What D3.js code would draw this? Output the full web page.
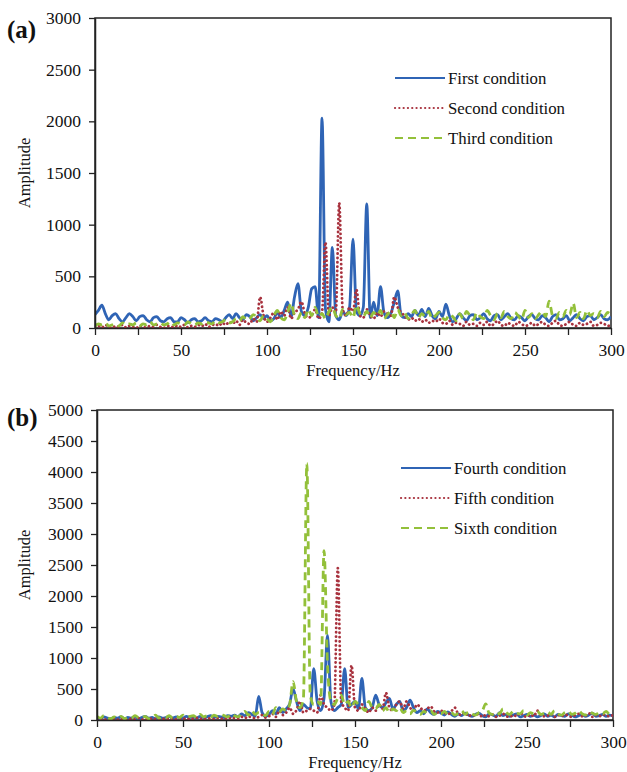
<!DOCTYPE html>
<html lang="en">
<head>
  <meta charset="UTF-8">
  <title>Amplitude spectra</title>
  <script src="https://cdn.jsdelivr.net/npm/d3@7"></script>
  <style>
    body { margin: 0; background: #fff; }
    text { font-family: "Times New Roman", "Liberation Serif", serif; fill: #111; }
  </style>
</head>
<body>
  <div id="chart"></div>
  <script>
    // frequency grid, every 2 Hz from 0 to 300
    const freq = d3.range(0, 301, 2);

    // panel (a) amplitudes, one row = 10 Hz (5 points)
    const firstCond = [
      130, 170, 220, 140, 80,   120, 140, 90, 60, 100,
      140, 110, 70, 110, 120,   80, 60, 100, 110, 70,
      60, 90, 100, 60, 60,      100, 80, 50, 80, 90,
      60, 70, 100, 70, 60,      90, 80, 60, 100, 130,
      90, 140, 100, 80, 130,    110, 70, 100, 130, 90,
      120, 70, 90, 150, 100,    170, 250, 110, 300, 430,
      160, 120, 200, 380, 400,  100, 2030, 180, 60, 780,
      120, 80, 160, 120, 200,   860, 160, 120, 200, 1200,
      100, 250, 120, 400, 150,  100, 140, 250, 360, 120,
      100, 140, 110, 170, 120,  180, 110, 190, 120, 90,
      160, 110, 230, 120, 60,   90, 140, 100, 70, 120,
      130, 80, 100, 140, 90,    70, 120, 130, 80, 110,
      140, 90, 80, 120, 100,    70, 110, 130, 90, 80,
      120, 100, 60, 110, 130,   80, 90, 120, 70, 100,
      130, 90, 70, 110, 120,    80, 100, 130, 90, 80,
      110
    ];
    const secondCond = [
      10, 20, 5, 30, 10,        0, 20, 10, 30, 5,
      20, 10, 0, 25, 10,        5, 20, 10, 30, 10,
      0, 20, 15, 5, 25,         10, 30, 5, 20, 10,
      30, 15, 40, 10, 25,       40, 20, 50, 30, 60,
      40, 70, 30, 80, 50,       40, 90, 60, 300, 120,
      60, 100, 150, 80, 160,    120, 200, 90, 150, 180,
      255, 140, 100, 120, 180,  90, 150, 830, 120, 200,
      150, 1210, 180, 120, 200, 160, 370, 120, 100, 180,
      120, 90, 150, 110, 160,   140, 120, 300, 200, 150,
      120, 80, 100, 70, 90,     60, 80, 50, 70, 60,
      90, 50, 40, 70, 30,       50, 40, 20, 60, 30,
      40, 20, 50, 30, 60,       20, 40, 70, 30, 20,
      50, 30, 20, 60, 40,       20, 30, 50, 20, 40,
      60, 30, 20, 50, 70,       30, 20, 40, 60, 30,
      20, 50, 30, 40, 60,       20, 30, 50, 40, 20,
      30
    ];
    const thirdCond = [
      20, 40, 30, 50, 20,       30, 40, 20, 50, 30,
      40, 30, 50, 20, 40,       30, 60, 30, 40, 50,
      30, 40, 60, 30, 50,       40, 30, 60, 40, 30,
      50, 40, 60, 50, 40,       70, 50, 60, 80, 50,
      60, 90, 70, 110, 80,      90, 130, 100, 70, 120,
      90, 60, 120, 170, 100,    80, 150, 240, 120, 90,
      150, 100, 180, 120, 200,  110, 140, 90, 160, 200,
      120, 90, 180, 130, 150,   100, 220, 140, 110, 160,
      100, 150, 120, 170, 90,   130, 160, 100, 180, 120,
      150, 90, 130, 170, 100,   140, 110, 160, 90, 120,
      150, 100, 80, 130, 110,   70, 140, 90, 160, 120,
      80, 150, 110, 90, 170,    120, 80, 140, 100, 160,
      110, 90, 150, 120, 80,    170, 100, 140, 90, 130,
      160, 110, 260, 120, 90,   150, 110, 170, 130, 240,
      100, 150, 90, 170, 120,   140, 100, 160, 110, 150,
      130
    ];

    // panel (b) amplitudes
    const fourthCond = [
      40, 20, 50, 30, 20,       40, 30, 50, 20, 40,
      30, 50, 20, 40, 60,       30, 40, 20, 50, 30,
      40, 60, 30, 50, 40,       30, 60, 40, 50, 30,
      60, 40, 50, 70, 40,       60, 50, 40, 70, 60,
      80, 50, 100, 70, 120,     90, 60, 380, 120, 60,
      90, 150, 100, 200, 120,   180, 260, 500, 300, 150,
      250, 200, 180, 830, 300,  150, 350, 1370, 300, 150,
      200, 250, 830, 200, 250,  300, 180, 670, 200, 150,
      200, 400, 250, 200, 280,  350, 180, 250, 300, 150,
      200, 320, 200, 120, 150,  100, 180, 120, 90, 140,
      110, 80, 130, 90, 60,     100, 70, 110, 80, 60,
      90, 110, 70, 50, 100,     80, 60, 120, 70, 90,
      60, 80, 100, 50, 70,      90, 60, 80, 50, 70,
      100, 60, 80, 50, 90,      70, 60, 100, 80, 50,
      70, 90, 60, 80, 110,      60, 70, 90, 60, 80,
      70
    ];
    const fifthCond = [
      10, 20, 0, 15, 10,        25, 5, 20, 10, 0,
      20, 10, 30, 5, 20,        10, 25, 15, 5, 20,
      10, 30, 20, 10, 25,       15, 30, 10, 20, 35,
      20, 10, 30, 25, 15,       35, 20, 30, 10, 40,
      30, 20, 50, 30, 60,       40, 30, 50, 80, 40,
      60, 100, 50, 150, 80,     120, 200, 100, 160, 300,
      120, 150, 180, 150, 120,  400, 250, 200, 150, 250,
      2450, 300, 200, 150, 880, 200, 150, 250, 180, 120,
      200, 150, 250, 180, 440,  200, 150, 250, 300, 180,
      300, 200, 150, 250, 200,  150, 180, 220, 140, 120,
      150, 120, 90, 140, 200,   100, 80, 120, 60, 90,
      70, 100, 50, 80, 60,      90, 50, 70, 100, 60,
      50, 80, 60, 120, 70,      50, 90, 60, 150, 80,
      60, 70, 100, 50, 80,      60, 90, 70, 50, 80,
      100, 60, 70, 110, 50,     80, 60, 90, 70, 60,
      80
    ];
    const sixthCond = [
      60, 30, 70, 40, 20,       50, 30, 60, 20, 40,
      30, 70, 40, 30, 60,       20, 50, 80, 30, 50,
      40, 70, 30, 60, 40,       80, 50, 60, 70, 40,
      90, 50, 70, 40, 80,       60, 90, 70, 50, 100,
      70, 50, 100, 140, 80,     150, 90, 120, 100, 70,
      140, 90, 200, 130, 180,   150, 250, 620, 300, 200,
      350, 4140, 400, 250, 300, 250, 2730, 900, 300, 250,
      350, 400, 250, 300, 200,  300, 250, 200, 150, 300,
      200, 180, 250, 150, 200,  120, 180, 150, 200, 120,
      150, 100, 160, 120, 90,   140, 110, 150, 90, 120,
      100, 140, 90, 120, 80,    110, 150, 90, 130, 100,
      80, 120, 150, 260, 110,   90, 130, 100, 180, 120,
      90, 140, 110, 100, 150,   80, 120, 100, 140, 90,
      110, 130, 90, 150, 100,   80, 120, 140, 90, 110,
      150, 100, 80, 130, 110,   90, 120, 100, 140, 90,
      120
    ];

    const colBlue = "#2f64b5";
    const colRed = "#a8323e";
    const colGreen = "#93c03a";

    const styles = [
      { color: colBlue,  width: 2.8, dash: null,      cap: "butt" },
      { color: colRed,   width: 2.8, dash: "0.1,4.2", cap: "round" },
      { color: colGreen, width: 2.8, dash: "8,5",     cap: "butt" }
    ];

    const serif = '"Times New Roman", "Liberation Serif", serif';

    const W = 627, H = 772;
    const svg = d3.select("#chart").append("svg")
      .attr("width", W)
      .attr("height", H);

    function drawPanel(opt) {
      const g = svg.append("g").attr("transform", `translate(${opt.left},${opt.top})`);
      const w = opt.width, h = opt.height;

      const x = d3.scaleLinear().domain([0, 300]).range([0, w]);
      const y = d3.scaleLinear().domain([0, opt.yMax]).range([h, 0]);

      // frame
      g.append("rect")
        .attr("width", w).attr("height", h)
        .attr("fill", "none").attr("stroke", "#222").attr("stroke-width", 1.5);

      // series
      const line = d3.line()
        .x((d, i) => x(freq[i]))
        .y(d => y(d))
        .curve(d3.curveMonotoneX);

      const clipId = "clip" + opt.tag;
      g.append("clipPath").attr("id", clipId)
        .append("rect").attr("width", w).attr("height", h);

      opt.series.forEach((s, k) => {
        const st = styles[k];
        g.append("path")
          .datum(s.values)
          .attr("clip-path", `url(#${clipId})`)
          .attr("fill", "none")
          .attr("stroke", st.color)
          .attr("stroke-width", st.width)
          .attr("stroke-linecap", st.cap)
          .attr("stroke-linejoin", "round")
          .attr("stroke-dasharray", st.dash)
          .attr("d", line);
      });

      // axes
      const xAxis = g.append("g")
        .attr("transform", `translate(0,${h})`)
        .call(d3.axisBottom(x)
          .tickValues(d3.range(0, 301, 25))
          .tickFormat(d => d % 50 === 0 ? d : "")
          .tickSize(7).tickPadding(9).tickSizeOuter(0));
      const yAxis = g.append("g")
        .call(d3.axisLeft(y)
          .tickValues(d3.range(0, opt.yMax + 1, opt.yStep))
          .tickFormat(d3.format("d"))
          .tickSize(6).tickPadding(8).tickSizeOuter(0));

      [xAxis, yAxis].forEach(a => {
        a.attr("font-family", null);
        a.select(".domain").attr("stroke", "#222").attr("stroke-width", 1.5);
        a.selectAll(".tick line").attr("stroke", "#222").attr("stroke-width", 1.3);
        a.selectAll(".tick text")
          .style("font-family", serif)
          .style("font-size", "17.5px")
          .attr("fill", "#111");
      });

      // axis titles
      g.append("text")
        .attr("x", w / 2).attr("y", h + 48)
        .attr("text-anchor", "middle")
        .style("font-size", "16.5px")
        .text("Frequency/Hz");

      g.append("text")
        .attr("transform", `translate(${-opt.left + 30},${h / 2}) rotate(-90)`)
        .attr("text-anchor", "middle")
        .style("font-size", "16.5px")
        .text("Amplitude");

      // panel tag
      g.append("text")
        .attr("x", -opt.left + 7).attr("y", opt.tagY)
        .style("font-size", "25px")
        .style("font-weight", "bold")
        .text(`(${opt.tag})`);

      // legend
      const lg = g.append("g").attr("transform", `translate(${opt.legX},${opt.legY})`);
      opt.series.forEach((s, k) => {
        const st = styles[k];
        const row = lg.append("g").attr("transform", `translate(0,${k * 30})`);
        row.append("line")
          .attr("x1", 0).attr("x2", 50).attr("y1", 0).attr("y2", 0)
          .attr("stroke", st.color)
          .attr("stroke-width", st.width - 0.6)
          .attr("stroke-linecap", st.cap)
          .attr("stroke-dasharray", st.dash);
        row.append("text")
          .attr("x", 53).attr("y", 6)
          .style("font-size", "16.8px")
          .text(s.name);
      });
    }

    drawPanel({
      tag: "a", left: 95, top: 18, width: 516, height: 310,
      yMax: 3000, yStep: 500, tagY: 20,
      legX: 300, legY: 60,
      series: [
        { name: "First condition", values: firstCond },
        { name: "Second condition", values: secondCond },
        { name: "Third condition", values: thirdCond }
      ]
    });

    drawPanel({
      tag: "b", left: 97, top: 410, width: 516, height: 310,
      yMax: 5000, yStep: 500, tagY: 16,
      legX: 304, legY: 58,
      series: [
        { name: "Fourth condition", values: fourthCond },
        { name: "Fifth condition", values: fifthCond },
        { name: "Sixth condition", values: sixthCond }
      ]
    });
  </script>
</body>
</html>
